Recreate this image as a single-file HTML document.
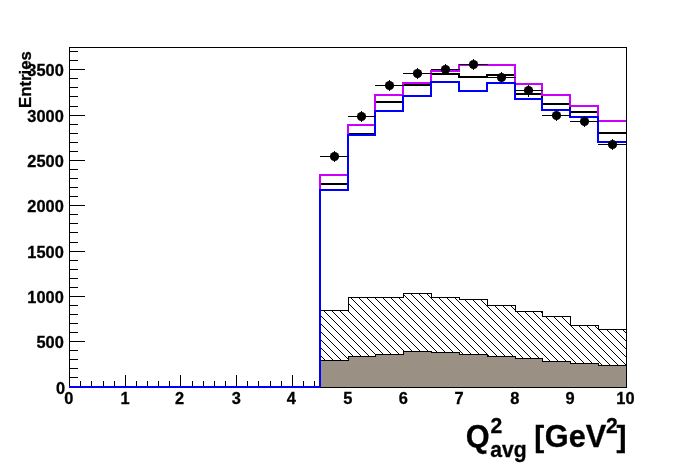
<!DOCTYPE html>
<html><head><meta charset="utf-8"><title>Q2avg</title>
<style>
html,body{margin:0;padding:0;background:#fff;}
body{width:696px;height:472px;overflow:hidden;}
svg{display:block;}
text{stroke:#000;stroke-width:0.3px;font-family:"Liberation Sans",sans-serif;font-weight:bold;fill:#000;}
.lab{font-size:17px;}
</style></head><body>
<svg width="696" height="472" viewBox="0 0 696 472">
<defs>
<pattern id="hatch" x="0" y="0" width="8" height="8" patternUnits="userSpaceOnUse">
<rect x="5" y="0" width="1" height="1" fill="#000"/><rect x="6" y="1" width="1" height="1" fill="#000"/><rect x="7" y="2" width="1" height="1" fill="#000"/><rect x="0" y="3" width="1" height="1" fill="#000"/><rect x="1" y="4" width="1" height="1" fill="#000"/><rect x="2" y="5" width="1" height="1" fill="#000"/><rect x="3" y="6" width="1" height="1" fill="#000"/><rect x="4" y="7" width="1" height="1" fill="#000"/></pattern></defs>
<rect width="696" height="472" fill="#fff"/>
<g stroke="#000" stroke-width="1" shape-rendering="crispEdges" fill="none">
<rect x="69.5" y="47.5" width="557" height="340"/>
<path d="M69.5 387V375"/><path d="M80.5 387V381"/><path d="M91.5 387V381"/><path d="M103.5 387V381"/><path d="M114.5 387V381"/><path d="M125.5 387V375"/><path d="M136.5 387V381"/><path d="M147.5 387V381"/><path d="M158.5 387V381"/><path d="M169.5 387V381"/><path d="M180.5 387V375"/><path d="M192.5 387V381"/><path d="M203.5 387V381"/><path d="M214.5 387V381"/><path d="M225.5 387V381"/><path d="M236.5 387V375"/><path d="M247.5 387V381"/><path d="M258.5 387V381"/><path d="M270.5 387V381"/><path d="M281.5 387V381"/><path d="M292.5 387V375"/><path d="M303.5 387V381"/><path d="M314.5 387V381"/><path d="M325.5 387V381"/><path d="M336.5 387V381"/><path d="M348.5 387V375"/><path d="M359.5 387V381"/><path d="M370.5 387V381"/><path d="M381.5 387V381"/><path d="M392.5 387V381"/><path d="M403.5 387V375"/><path d="M414.5 387V381"/><path d="M425.5 387V381"/><path d="M437.5 387V381"/><path d="M448.5 387V381"/><path d="M459.5 387V375"/><path d="M470.5 387V381"/><path d="M481.5 387V381"/><path d="M492.5 387V381"/><path d="M503.5 387V381"/><path d="M515.5 387V375"/><path d="M526.5 387V381"/><path d="M537.5 387V381"/><path d="M548.5 387V381"/><path d="M559.5 387V381"/><path d="M570.5 387V375"/><path d="M581.5 387V381"/><path d="M592.5 387V381"/><path d="M604.5 387V381"/><path d="M615.5 387V381"/><path d="M626.5 387V375"/>
<path d="M69 387.5H85"/><path d="M69 377.5H78"/><path d="M69 368.5H78"/><path d="M69 359.5H78"/><path d="M69 350.5H78"/><path d="M69 341.5H85"/><path d="M69 332.5H78"/><path d="M69 323.5H78"/><path d="M69 314.5H78"/><path d="M69 305.5H78"/><path d="M69 296.5H85"/><path d="M69 287.5H78"/><path d="M69 278.5H78"/><path d="M69 269.5H78"/><path d="M69 260.5H78"/><path d="M69 251.5H85"/><path d="M69 242.5H78"/><path d="M69 232.5H78"/><path d="M69 223.5H78"/><path d="M69 214.5H78"/><path d="M69 205.5H85"/><path d="M69 196.5H78"/><path d="M69 187.5H78"/><path d="M69 178.5H78"/><path d="M69 169.5H78"/><path d="M69 160.5H85"/><path d="M69 151.5H78"/><path d="M69 142.5H78"/><path d="M69 133.5H78"/><path d="M69 124.5H78"/><path d="M69 115.5H85"/><path d="M69 106.5H78"/><path d="M69 96.5H78"/><path d="M69 87.5H78"/><path d="M69 78.5H78"/><path d="M69 69.5H85"/><path d="M69 60.5H78"/><path d="M69 51.5H78"/></g>
<g shape-rendering="crispEdges">
<polygon points="320,310.5 348,310.5 348,297.5 375,297.5 375,297.5 403,297.5 403,293.5 431,293.5 431,297.5 459,297.5 459,299.5 487,299.5 487,305.5 515,305.5 515,311.5 542,311.5 542,316.5 570,316.5 570,325.5 598,325.5 598,329.5 626,329.5 626,365.5 598,365.5 598,363.5 570,363.5 570,361.5 542,361.5 542,358.5 515,358.5 515,356.5 487,356.5 487,354.5 459,354.5 459,352.5 431,352.5 431,351.5 403,351.5 403,354.5 375,354.5 375,356.5 348,356.5 348,360.5 320,360.5" fill="url(#hatch)"/>
<path d="M320 387V310.5H348V297.5H375V297.5H403V293.5H431V297.5H459V299.5H487V305.5H515V311.5H542V316.5H570V325.5H598V329.5H626V387" fill="none" stroke="#000" stroke-width="1" transform="translate(0.5,0)"/>
<polygon points="320,360.5 348,360.5 348,356.5 375,356.5 375,354.5 403,354.5 403,351.5 431,351.5 431,352.5 459,352.5 459,354.5 487,354.5 487,356.5 515,356.5 515,358.5 542,358.5 542,361.5 570,361.5 570,363.5 598,363.5 598,365.5 626,365.5 626,387 320,387" fill="#9b9084"/>
<path d="M320 387V360.5H348V356.5H375V354.5H403V351.5H431V352.5H459V354.5H487V356.5H515V358.5H542V361.5H570V363.5H598V365.5H626V387" fill="none" stroke="#000" stroke-width="1" transform="translate(0.5,0)"/>
</g>
<path d="M69 387H320V184H348V134H375V102H403V85H431V74H459V77H487V75H515V94H542V104H570V112H598V133H626" fill="none" stroke="#000" stroke-width="2" stroke-linejoin="miter" shape-rendering="crispEdges"/>
<path d="M69 387H320V175H348V125H375V95H403V83H431V71H459V65H487V65H515V84H542V95H570V106H598V121H626" fill="none" stroke="#cc00ff" stroke-width="2" stroke-linejoin="miter" shape-rendering="crispEdges"/>
<path d="M69 387H320V190H348V135H375V111H403V96H431V82H459V91H487V83H515V99H542V110H570V117H598V142H626" fill="none" stroke="#0000ff" stroke-width="2" stroke-linejoin="miter" shape-rendering="crispEdges"/>
<g stroke="#000" stroke-width="1" shape-rendering="crispEdges"><path d="M626.5 47V388"/><path d="M320 387.5H627"/></g>
<g stroke="#000" stroke-width="1" shape-rendering="crispEdges">
<path d="M320 156.5H349M334.5 151.0V162.0"/><path d="M348 116.5H376M361.5 111.0V122.0"/><path d="M375 85.5H404M389.5 80.0V91.0"/><path d="M403 73.5H432M417.5 68.0V79.0"/><path d="M431 69.5H460M445.5 64.0V75.0"/><path d="M459 64.5H488M473.5 59.0V70.0"/><path d="M487 77.5H516M501.5 72.0V83.0"/><path d="M515 90.5H543M528.5 85.0V97.0"/><path d="M542 115.5H571M556.5 110.0V121.0"/><path d="M570 121.5H599M584.5 116.0V127.0"/><path d="M598 144.5H627M612.5 139.0V150.0"/></g>
<g fill="#000"><circle cx="334.5" cy="156.5" r="4.6"/><circle cx="361.5" cy="116.5" r="4.6"/><circle cx="389.5" cy="85.5" r="4.6"/><circle cx="417.5" cy="73.5" r="4.6"/><circle cx="445.5" cy="69.5" r="4.6"/><circle cx="473.5" cy="64.5" r="4.6"/><circle cx="501.5" cy="77.5" r="4.6"/><circle cx="528.5" cy="90.5" r="4.6"/><circle cx="556.5" cy="115.5" r="4.6"/><circle cx="584.5" cy="121.5" r="4.6"/><circle cx="612.5" cy="144.5" r="4.6"/></g>
<g class="lab" text-anchor="end"><text transform="translate(65.2,394.0) scale(0.965,1)">0</text><text transform="translate(63.8,348.0) scale(0.965,1)">500</text><text transform="translate(63.8,303.0) scale(0.965,1)">1000</text><text transform="translate(63.8,258.0) scale(0.965,1)">1500</text><text transform="translate(63.8,212.0) scale(0.965,1)">2000</text><text transform="translate(63.8,167.0) scale(0.965,1)">2500</text><text transform="translate(63.8,122.0) scale(0.965,1)">3000</text><text transform="translate(63.8,76.0) scale(0.965,1)">3500</text></g>
<g class="lab" text-anchor="middle"><text transform="translate(68.8,403.9) scale(0.965,1)">0</text><text transform="translate(125.0,403.9) scale(0.965,1)">1</text><text transform="translate(179.5,403.9) scale(0.965,1)">2</text><text transform="translate(236.3,403.9) scale(0.965,1)">3</text><text transform="translate(291.2,403.9) scale(0.965,1)">4</text><text transform="translate(347.7,403.9) scale(0.965,1)">5</text><text transform="translate(403.4,403.9) scale(0.965,1)">6</text><text transform="translate(459.1,403.9) scale(0.965,1)">7</text><text transform="translate(514.7,403.9) scale(0.965,1)">8</text><text transform="translate(570.0,403.9) scale(0.965,1)">9</text><text transform="translate(625.4,403.9) scale(0.965,1)">10</text></g>
<text transform="translate(30.7,107.9) rotate(-90)" font-size="16.75">Entries</text>
<text transform="translate(465.8,447) scale(0.96,1)" font-size="32">Q</text><text transform="translate(490.4,432.8) scale(0.96,1)" font-size="22">2</text><text transform="translate(490.3,456.8) scale(0.96,1)" font-size="22">avg</text><text font-size="30" x="534.3" y="447.1">[</text><text transform="translate(544.8,447) scale(0.96,1)" font-size="32">GeV</text><text transform="translate(606.0,432.8) scale(0.96,1)" font-size="22">2</text><text font-size="30" x="616.6" y="447.1">]</text>
</svg>
</body></html>
